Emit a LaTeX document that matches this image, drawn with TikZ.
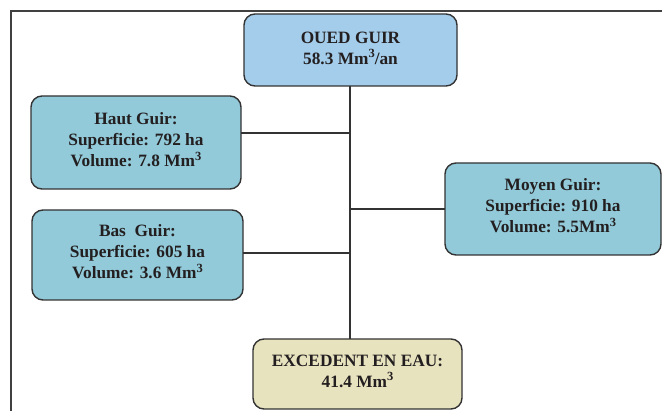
\documentclass[tikz,border=0pt]{standalone}
\usepackage{fontspec}
\setmainfont{Liberation Serif}
\definecolor{topblue}{HTML}{A4CDEB}
\definecolor{sideblue}{HTML}{92CAD9}
\definecolor{beige}{HTML}{E8E3BF}
\definecolor{edge}{HTML}{333333}
\definecolor{ink}{HTML}{231F20}
\newcommand{\cubed}{\raisebox{0.36em}{\fontsize{12.5}{12.5}\selectfont\bfseries 3}}
\begin{document}
\begin{tikzpicture}[x=1pt,y=-1pt,
  box/.style={draw=edge,line width=1.4pt,rounded corners=11pt},
  label/.style={text=ink,font=\bfseries\fontsize{17.3}{21}\selectfont,align=center,inner sep=0pt},
  link/.style={draw=edge,line width=1.2pt}]
\useasboundingbox (0,0) rectangle (662,411);
\fill[white] (0,0) rectangle (662,411);
\draw[draw=black!75,line width=1.3pt] (11,411) -- (11,11) -- (662,11);
\path[box,fill=topblue] (244,14) rectangle (457,86);
\node[label] (oued) at (350.5,48) {OUED GUIR\\58.3 Mm\cubed/an};
\path[box,fill=sideblue] (31,96) rectangle (241,189);
\node[label] (haut) at (136,139.5) {Haut Guir:\\Superficie: 792 ha\\Volume: 7.8 Mm\cubed};
\path[box,fill=sideblue] (32,210) rectangle (243,300);
\node[label] (bas) at (137.5,251.5) {Bas\ \ Guir:\\Superficie: 605 ha\\Volume: 3.6 Mm\cubed};
\path[box,fill=sideblue] (445,163) rectangle (661,255);
\node[label] (moyen) at (553,206) {Moyen Guir:\\Superficie: 910 ha\\Volume: 5.5Mm\cubed};
\path[box,fill=beige] (253,339) rectangle (462,409);
\node[label] (exc) at (357.5,371) {EXCEDENT EN EAU:\\41.4 Mm\cubed};
\coordinate (ctop) at (350,86);
\coordinate (cbot) at (350,339);
\coordinate (jh) at (350,133);
\coordinate (jm) at (350,209);
\coordinate (jb) at (350,253);
\coordinate (hr) at (241,133);
\coordinate (mr) at (445,209);
\coordinate (br) at (243,253);
\draw[link] (ctop) -- (cbot);
\draw[link] (hr) -- (jh);
\draw[link] (jm) -- (mr);
\draw[link] (br) -- (jb);
\end{tikzpicture}
\end{document}
